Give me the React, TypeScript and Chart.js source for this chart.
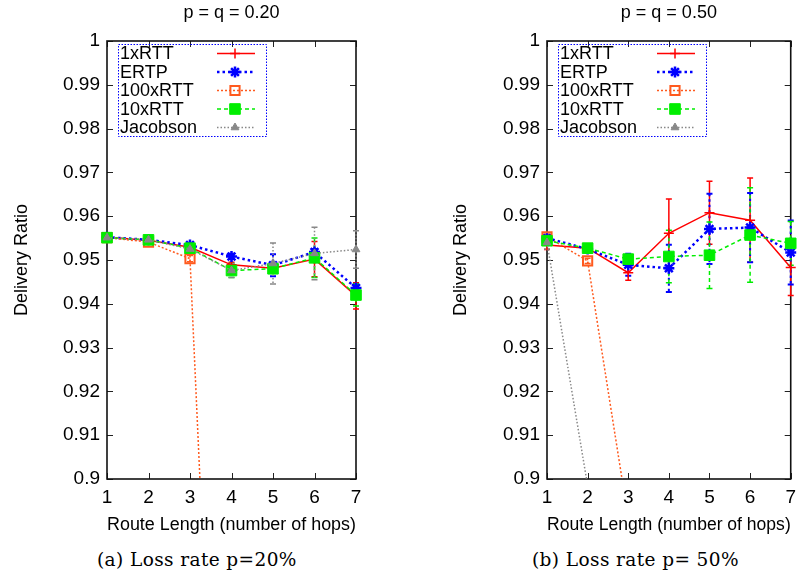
import React, { useEffect, useRef } from 'react';
import { Chart, registerables } from 'chart.js';
import { drawPoint } from 'chart.js/helpers';

Chart.register(...registerables);

// ---------- data ----------
const hops = [1, 2, 3, 4, 5, 6, 7];
const yTicks = [0.9, 0.91, 0.92, 0.93, 0.94, 0.95, 0.96, 0.97, 0.98, 0.99, 1];
const seriesNames = ['1xRTT', 'ERTP', '100xRTT', '10xRTT', 'Jacobson'];

// panel (a) p = q = 0.20
const a1xRTT = [0.9552, 0.9545, 0.9529, 0.9489, 0.9481, 0.9502, 0.9418];
const a1xRTTErr = [0.0002, 0.0003, 0.0006, 0.0006, 0.001, 0.004, 0.003];
const aERTP = [0.9552, 0.9546, 0.9534, 0.9508, 0.9488, 0.9518, 0.9436];
const aERTPErr = [0.0002, 0.0003, 0.0004, 0.0006, 0.0025, 0.0007, 0.0008];
const a100xRTT = [0.9551, 0.9541, 0.9503, 0.74, 0.73, 0.72, 0.71];
const a100xRTTErr = [0.0002, 0.0003, 0.0007, 0, 0, 0, 0];
const a10xRTT = [0.9551, 0.9546, 0.9527, 0.9476, 0.948, 0.9505, 0.942];
const a10xRTTErr = [0.0002, 0.0003, 0.0007, 0.0016, 0.0009, 0.0045, 0.0025];
const aJacobson = [0.9551, 0.9546, 0.9525, 0.9476, 0.9492, 0.9515, 0.9524];
const aJacobsonErr = [0.0002, 0.0003, 0.0008, 0.0016, 0.0047, 0.006, 0.0043];

// panel (b) p = q = 0.50
const b1xRTT = [0.9534, 0.9527, 0.9471, 0.9561, 0.9608, 0.9591, 0.9483];
const b1xRTTErr = [0.001, 0.0008, 0.0017, 0.0078, 0.0072, 0.0096, 0.0064];
const bERTP = [0.955, 0.9525, 0.9489, 0.9481, 0.9571, 0.9574, 0.9517];
const bERTPErr = [0.0005, 0.0008, 0.0025, 0.0054, 0.0080, 0.0079, 0.0073];
const b100xRTT = [0.9553, 0.9498, 0.891, 0.85, 0.82, 0.8, 0.78];
const b100xRTTErr = [0.0006, 0.0006, 0, 0, 0, 0, 0];
const b10xRTT = [0.9544, 0.9527, 0.9502, 0.9508, 0.9511, 0.9557, 0.9538];
const b10xRTTErr = [0.0005, 0.0008, 0.001, 0.006, 0.0076, 0.0108, 0.005];
const bJacobson = [0.954, 0.8985, 0.85, 0.82, 0.8, 0.78, 0.76];
const bJacobsonErr = [0.0015, 0, 0, 0, 0, 0, 0];

// ---------- styles ----------
const FONT = '"Liberation Sans", Arial, Helvetica, sans-serif';
const seriesStyles = [
  { color: '#ff0000', dash: [], width: 1.5, point: 'cross', radius: 5, pbw: 1.5, fill: '#ff0000' },
  { color: '#0000ff', dash: [2.5, 3], width: 2.5, point: 'star', radius: 5.5, pbw: 2.5, fill: '#0000ff' },
  { color: '#ff5a1e', dash: [2, 2], width: 1.5, point: 'rect', radius: 6.5, pbw: 2, fill: 'rgba(255,255,255,0)' },
  { color: '#00ee00', dash: [4, 3], width: 1.5, point: 'rect', radius: 7.5, pbw: 1, fill: '#00ee00' },
  { color: '#888888', dash: [1.5, 2], width: 1.5, point: 'triangle', radius: 4.5, pbw: 1, fill: '#888888' },
];

// ---------- plugins ----------
const framePlugin = {
  id: 'gnuFrame',
  beforeDatasetsDraw(chart: any) {
    const { ctx, chartArea: a, scales } = chart;
    ctx.save();
    ctx.strokeStyle = '#222';
    ctx.lineWidth = 1;
    ctx.beginPath();
    scales.y.ticks.forEach((t: any) => {
      const y = Math.round(scales.y.getPixelForValue(t.value)) + 0.5;
      ctx.moveTo(a.left, y); ctx.lineTo(a.left + 6, y);
      ctx.moveTo(a.right, y); ctx.lineTo(a.right - 6, y);
    });
    scales.x.ticks.forEach((t: any) => {
      const x = Math.round(scales.x.getPixelForValue(t.value)) + 0.5;
      ctx.moveTo(x, a.bottom); ctx.lineTo(x, a.bottom - 6);
      ctx.moveTo(x, a.top); ctx.lineTo(x, a.top + 6);
    });
    ctx.stroke();
    ctx.lineWidth = 1.6;
    ctx.strokeStyle = '#111';
    ctx.strokeRect(a.left, a.top, a.right - a.left, a.bottom - a.top);

    // error bars
    ctx.beginPath();
    ctx.rect(a.left - 12, a.top - 12, a.right - a.left + 24, a.bottom - a.top + 12);
    ctx.clip();
    chart.data.datasets.forEach((ds: any) => {
      const errs = ds.errors;
      if (!errs) return;
      ctx.strokeStyle = ds.borderColor;
      ctx.lineWidth = Math.min(ds.borderWidth, 2);
      ds.data.forEach((p: any, j: number) => {
        const e = errs[j];
        if (!e) return;
        const px = scales.x.getPixelForValue(p.x);
        const y1 = scales.y.getPixelForValue(p.y + e);
        const y2 = scales.y.getPixelForValue(p.y - e);
        ctx.setLineDash(ds.borderDash);
        ctx.beginPath(); ctx.moveTo(px, y1); ctx.lineTo(px, y2); ctx.stroke();
        ctx.setLineDash([]);
        ctx.beginPath();
        ctx.moveTo(px - 3, y1); ctx.lineTo(px + 3, y1);
        ctx.moveTo(px - 3, y2); ctx.lineTo(px + 3, y2);
        ctx.stroke();
      });
    });
    ctx.restore();
  },
};

const boxLegendPlugin = {
  id: 'boxLegend',
  afterDatasetsDraw(chart: any) {
    const { ctx, chartArea: a } = chart;
    const L = Math.round(a.left + 11), T = Math.round(a.top + 3), W = 148, H = 92;
    ctx.save();
    ctx.strokeStyle = '#0000ff';
    ctx.lineWidth = 1;
    ctx.setLineDash([1.5, 1.5]);
    ctx.strokeRect(L + 0.5, T + 0.5, W, H);
    ctx.setLineDash([]);
    ctx.font = '18px ' + FONT;
    ctx.textBaseline = 'middle';
    ctx.textAlign = 'left';
    chart.data.datasets.forEach((ds: any, i: number) => {
      const cy = T + 9.5 + i * 18.5;
      ctx.fillStyle = '#000';
      ctx.fillText(ds.label, L + 2, cy + 1);
      ctx.strokeStyle = ds.borderColor;
      ctx.lineWidth = ds.borderWidth;
      ctx.setLineDash(ds.borderDash || []);
      ctx.beginPath(); ctx.moveTo(L + 99, cy); ctx.lineTo(L + 137, cy); ctx.stroke();
      ctx.setLineDash([]);
      ctx.fillStyle = ds.pointBackgroundColor;
      ctx.strokeStyle = ds.pointBorderColor;
      ctx.lineWidth = ds.pointBorderWidth;
      drawPoint(ctx, { pointStyle: ds.pointStyle, radius: ds.pointRadius, borderWidth: ds.pointBorderWidth, rotation: 0 } as any, L + 117, cy);
    });
    ctx.restore();
  },
};

// ---------- chart panel ----------
type PanelProps = {
  title: string;
  values: number[][];
  errors: number[][];
  left: number;
  width: number;
  padLeft: number;
  padRight: number;
  yWidth: number;
};

function ChartPanel({ title, values, errors, left, width, padLeft, padRight, yWidth }: PanelProps) {
  const ref = useRef<HTMLCanvasElement>(null);
  useEffect(() => {
    if (!ref.current) return;
    const datasets = seriesNames.map((name, i) => {
      const s = seriesStyles[i];
      return {
        label: name,
        data: hops.map((h, j) => ({ x: h, y: values[i][j] })),
        errors: errors[i],
        borderColor: s.color,
        borderWidth: s.width,
        borderDash: s.dash,
        pointStyle: s.point,
        pointRadius: s.radius,
        pointBorderWidth: s.pbw,
        pointBorderColor: s.color,
        pointBackgroundColor: s.fill,
        tension: 0,
        fill: false,
        order: 4 - i,
        clip: { left: 12, right: 12, top: 12, bottom: 0 },
      };
    });
    const chart = new Chart(ref.current, {
      type: 'line',
      data: { datasets } as any,
      options: {
        animation: false,
        responsive: false,
        layout: { padding: { left: padLeft, right: padRight, top: 0, bottom: 0 } },
        plugins: {
          legend: { display: false },
          tooltip: { enabled: false },
          title: {
            display: true,
            text: title,
            fullSize: false,
            color: '#000',
            font: { family: FONT, size: 18, weight: 'normal' },
            padding: { top: 2.2, bottom: 17.2 },
          },
        },
        scales: {
          x: {
            type: 'linear',
            min: 1,
            max: 7,
            afterBuildTicks: (s: any) => { s.ticks = hops.map((v) => ({ value: v })); },
            afterFit: (s: any) => { s.height = 61; },
            ticks: { color: '#000', font: { family: FONT, size: 19 }, padding: 7, maxRotation: 0 },
            grid: { display: false, drawTicks: false },
            border: { display: false },
            title: { display: true, text: 'Route Length (number of hops)', color: '#000', font: { family: FONT, size: 18 }, padding: { top: 4, bottom: 4 } },
          },
          y: {
            type: 'linear',
            min: 0.9,
            max: 1,
            afterBuildTicks: (s: any) => { s.ticks = yTicks.map((v) => ({ value: v })); },
            afterFit: (s: any) => { s.width = yWidth; },
            ticks: {
              color: '#000',
              font: { family: FONT, size: 19 },
              padding: 7,
              autoSkip: false,
              callback: (v: any) => String(parseFloat(Number(v).toFixed(2))),
            },
            grid: { display: false, drawTicks: false },
            border: { display: false },
            title: { display: true, text: 'Delivery Ratio', color: '#000', font: { family: FONT, size: 18 }, padding: { top: 4, bottom: 4 } },
          },
        },
      } as any,
      plugins: [framePlugin, boxLegendPlugin],
    });
    return () => chart.destroy();
  }, []);
  return (
    <canvas
      ref={ref}
      width={width}
      height={540}
      style={{ position: 'absolute', left, top: 0, width, height: 540 }}
    />
  );
}

const captionStyle: React.CSSProperties = {
  position: 'absolute',
  top: 548,
  fontFamily: '"DejaVu Serif", "Liberation Serif", serif',
  fontSize: 18.5,
  letterSpacing: 0.4,
  lineHeight: '24px',
  whiteSpace: 'nowrap',
  color: '#000',
};

export default function App() {
  return (
    <div style={{ position: 'fixed', left: 0, top: 0, width: 803, height: 575, background: '#fff', overflow: 'hidden' }}>
      <ChartPanel
        title="p = q = 0.20"
        values={[a1xRTT, aERTP, a100xRTT, a10xRTT, aJacobson]}
        errors={[a1xRTTErr, aERTPErr, a100xRTTErr, a10xRTTErr, aJacobsonErr]}
        left={0}
        width={400}
        padLeft={7}
        padRight={44}
        yWidth={100}
      />
      <ChartPanel
        title="p = q = 0.50"
        values={[b1xRTT, bERTP, b100xRTT, b10xRTT, bJacobson]}
        errors={[b1xRTTErr, bERTPErr, b100xRTTErr, b10xRTTErr, bJacobsonErr]}
        left={400}
        width={403}
        padLeft={46}
        padRight={7}
        yWidth={101}
      />
      <div style={{ ...captionStyle, left: 97 }}>(a) Loss rate p=20%</div>
      <div style={{ ...captionStyle, left: 532 }}>(b) Loss rate p= 50%</div>
    </div>
  );
}
